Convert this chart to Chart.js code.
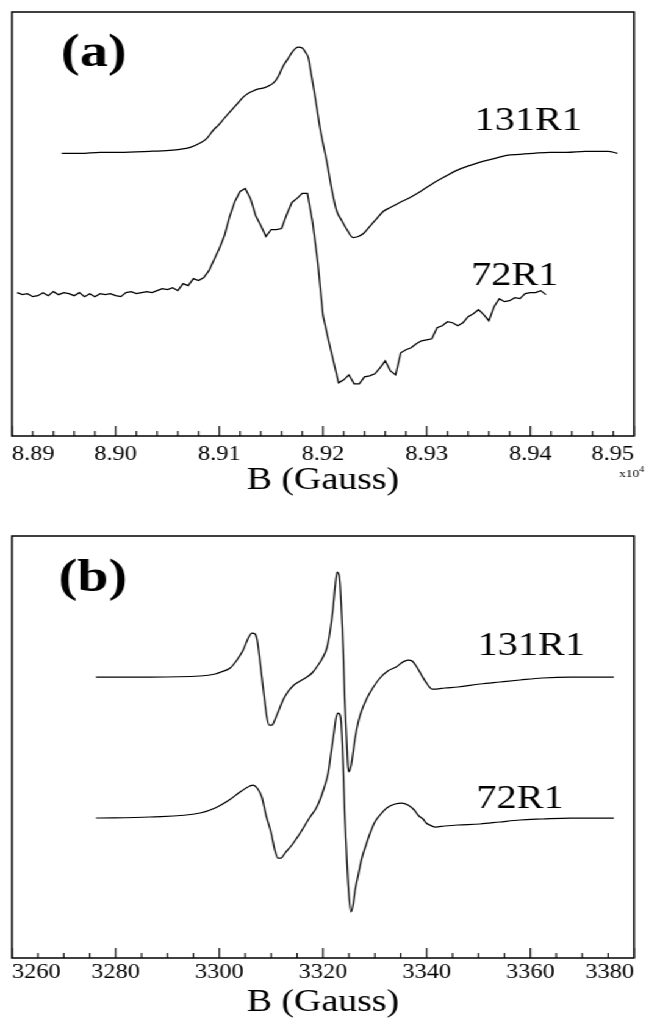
<!DOCTYPE html>
<html>
<head>
<meta charset="utf-8">
<script src="https://cdn.jsdelivr.net/npm/chart.js@4.4.1/dist/chart.umd.min.js"></script>
<style>
  html, body { margin: 0; padding: 0; background: #fff; overflow: hidden; }
  /* the original figure is stretched sideways, so the whole page is too */
  #page { position: absolute; left: 0; top: 0; width: 532px; height: 1019px; transform: scaleX(1.22); transform-origin: 0 0; }
  .box { position: absolute; left: 0; width: 532px; }
  #boxA { top: 0; height: 500px; }
  #boxB { top: 505px; height: 514px; }
</style>
</head>
<body>
<div id="page">
  <div class="box" id="boxA"><canvas id="chartA" width="532" height="500"></canvas></div>
  <div class="box" id="boxB"><canvas id="chartB" width="532" height="514"></canvas></div>
</div>
<script>
// ---- panel (a): field in units of 10^4 G, signal in arbitrary units ----
const fieldA131 = [8.8948, 8.8966, 8.8985, 8.9004, 8.9033, 8.9052, 8.9062, 8.9072, 8.9081, 8.9088,
  8.9094, 8.9099, 8.9104, 8.9110, 8.9117, 8.9123, 8.9128, 8.9132, 8.9137, 8.9142,
  8.9147, 8.9152, 8.9157, 8.9161, 8.9166, 8.9171, 8.9176, 8.9180, 8.9183, 8.9186,
  8.9188, 8.9191, 8.9194, 8.9197, 8.9201, 8.9204, 8.9207, 8.9210, 8.9213, 8.9218,
  8.9223, 8.9229, 8.9234, 8.9239, 8.9245, 8.9252, 8.9258, 8.9265, 8.9274, 8.9284,
  8.9294, 8.9306, 8.9318, 8.9329, 8.9342, 8.9354, 8.9366, 8.9377, 8.9390, 8.9403,
  8.9419, 8.9435, 8.9453, 8.9467, 8.9475, 8.9484];
const signalA131 = [282, 282, 283, 283, 284, 285, 286, 288, 292, 297,
  305, 310, 316, 323, 331, 338, 342, 344, 346, 347,
  349, 352, 359, 368, 376, 384, 388, 387, 383, 377,
  365, 347, 328, 308, 287, 272, 254, 238, 225, 215,
  206, 198, 199, 202, 209, 217, 224, 228, 233, 238,
  244, 252, 259, 265, 270, 274, 277, 280, 281, 282,
  283, 283, 284, 284, 284, 282];

const fieldA72 = [8.8905, 8.8910, 8.8915, 8.8920, 8.8925, 8.8930, 8.8935, 8.8940, 8.8945, 8.8950,
  8.8955, 8.8960, 8.8965, 8.8970, 8.8975, 8.8980, 8.8985, 8.8990, 8.8995, 8.9000,
  8.9005, 8.9010, 8.9015, 8.9020, 8.9025, 8.9030, 8.9035, 8.9040, 8.9045, 8.9050,
  8.9055, 8.9060, 8.9065, 8.9070, 8.9075, 8.9080, 8.9085, 8.9090, 8.9095, 8.9100,
  8.9105, 8.9110, 8.9115, 8.9120, 8.9125, 8.9130, 8.9135, 8.9140, 8.9145, 8.9150,
  8.9155, 8.9160, 8.9165, 8.9170, 8.9175, 8.9180, 8.9185, 8.9190, 8.9195, 8.9200,
  8.9205, 8.9210, 8.9215, 8.9220, 8.9225, 8.9230, 8.9235, 8.9240, 8.9245, 8.9250,
  8.9255, 8.9260, 8.9265, 8.9270, 8.9275, 8.9280, 8.9285, 8.9290, 8.9295, 8.9300,
  8.9305, 8.9310, 8.9315, 8.9320, 8.9325, 8.9330, 8.9335, 8.9340, 8.9345, 8.9350,
  8.9355, 8.9360, 8.9365, 8.9370, 8.9375, 8.9380, 8.9385, 8.9390, 8.9395, 8.9400,
  8.9405, 8.9410, 8.9415];
const signalA72 = [143, 141, 142, 139, 140, 143, 140, 144, 141, 143,
  142, 140, 143, 139, 142, 139, 142, 141, 142, 140,
  139, 143, 144, 142, 143, 144, 143, 145, 147, 146,
  148, 145, 152, 150, 157, 155, 158, 165, 176, 187,
  200, 219, 234, 244, 247, 237, 220, 210, 199, 206,
  206, 207, 221, 233, 237, 242, 242, 213, 173, 120,
  97, 75, 53, 56, 61, 52, 52, 59, 60, 62,
  68, 75, 65, 61, 83, 86, 88, 92, 95, 96,
  97, 108, 110, 114, 113, 110, 113, 119, 122, 126,
  121, 115, 129, 137, 134, 135, 138, 137, 142, 143,
  143, 145, 141];

const tickFieldA = [8.89, 8.90, 8.91, 8.92, 8.93, 8.94, 8.95];
const labelTextA = ['(a)', '131R1', '72R1'];
const labelFieldA = [8.8979, 8.9398, 8.9385];
const labelSignalA = [369, 305, 151];

// ---- panel (b): field in G ----
const fieldB131 = [3276.2, 3286.6, 3296.3, 3299.2, 3300.3, 3302.1, 3303.4, 3304.6, 3305.5, 3306.3,
  3306.9, 3307.3, 3307.7, 3308.2, 3308.8, 3309.2, 3309.6, 3310.2, 3310.7, 3311.5,
  3312.3, 3313.2, 3314.2, 3315.6, 3316.9, 3317.9, 3318.8, 3319.8, 3320.8, 3321.4,
  3321.9, 3322.3, 3322.7, 3323.1, 3323.3, 3323.7, 3323.9, 3324.2, 3324.6, 3324.8,
  3325.0, 3325.4, 3325.6, 3326.2, 3326.8, 3327.5, 3328.5, 3329.6, 3331.0, 3332.5,
  3334.1, 3335.4, 3336.4, 3337.2, 3338.1, 3339.1, 3340.1, 3341.0, 3341.8, 3343.5,
  3346.0, 3350.3, 3354.1, 3358.0, 3362.3, 3367.7, 3372.5, 3376.1];
const signalB131 = [281, 281, 282, 284, 286, 290, 298, 308, 319, 325,
  324, 318, 303, 281, 255, 240, 233, 233, 238, 248,
  258, 266, 272, 277, 281, 285, 291, 299, 311, 328,
  348, 370, 386, 383, 373, 333, 308, 258, 213, 193,
  186, 192, 198, 220, 236, 248, 260, 270, 280, 287,
  291, 296, 298, 297, 291, 282, 274, 269, 269, 270,
  271, 274, 276, 278, 280, 281, 281, 281];

const fieldB72 = [3276.2, 3286.6, 3296.3, 3299.2, 3301.9, 3304.0, 3305.9, 3306.5, 3307.3, 3308.2,
  3309.0, 3310.0, 3310.7, 3311.3, 3311.9, 3312.7, 3314.0, 3315.6, 3317.5, 3318.7,
  3319.4, 3320.2, 3321.0, 3321.5, 3322.1, 3322.5, 3322.9, 3323.3, 3323.5, 3323.9,
  3324.2, 3324.6, 3325.0, 3325.4, 3325.8, 3326.2, 3326.8, 3327.5, 3328.3, 3329.1,
  3330.0, 3331.0, 3332.3, 3333.9, 3335.2, 3336.4, 3337.6, 3338.5, 3339.3, 3339.9,
  3340.6, 3341.6, 3343.5, 3346.0, 3350.3, 3354.1, 3358.0, 3362.3, 3367.7, 3372.5, 3376.1];
const signalB72 = [140, 141, 145, 150, 158, 166, 172, 173, 170, 161,
  143, 125, 108, 100, 100, 105, 113, 125, 141, 150,
  158, 170, 185, 203, 225, 240, 245, 243, 236, 191,
  143, 98, 63, 46, 53, 68, 83, 100, 113, 125,
  136, 143, 150, 154, 155, 153, 148, 142, 139, 135,
  133, 131, 132, 133, 134, 136, 138, 139, 140, 140, 140];

const tickFieldB = [3260, 3280, 3300, 3320, 3340, 3360, 3380];
const labelTextB = ['(b)', '131R1', '72R1'];
const labelFieldB = [3275.6, 3360.2, 3358.0];
const labelSignalB = [367, 303, 150];

Chart.defaults.font.family = "'Liberation Serif', 'Times New Roman', serif";
Chart.defaults.color = '#000';

function points(xs, ys) {
    return xs.map((x, i) => ({ x: x, y: ys[i] }));
}

// box frame, inward ticks, curve labels and the x10^4 note
const spectrumDecor = {
    id: 'spectrumDecor',
    afterDraw(chart, args, o) {
        const { ctx, chartArea: a } = chart;
        const xs = chart.scales.x, ys = chart.scales.y;
        ctx.save();
        ctx.strokeStyle = '#000';
        ctx.lineWidth = 1.5;
        ctx.strokeRect(a.left, a.top, a.right - a.left, a.bottom - a.top);

        ctx.lineWidth = 1.1;
        ctx.beginPath();
        const n = Math.round((xs.max - xs.min) / o.minorStep);
        for (let k = 0; k <= n; k++) {
            const px = xs.getPixelForValue(xs.min + k * o.minorStep);
            const len = k % o.minorPerMajor === 0 ? 10 : 5;
            ctx.moveTo(px, a.bottom);
            ctx.lineTo(px, a.bottom - len);
        }
        ctx.stroke();

        ctx.fillStyle = '#000';
        ctx.textAlign = 'center';
        ctx.textBaseline = 'alphabetic';
        o.texts.forEach((t, i) => {
            ctx.font = i === 0 ? "bold 46px 'Liberation Serif'" : "33px 'Liberation Serif'";
            ctx.fillText(t, xs.getPixelForValue(o.fields[i]), ys.getPixelForValue(o.signals[i]));
        });

        if (o.exponent) {
            ctx.textAlign = 'right';
            ctx.font = "8px 'Liberation Serif'";
            const right = chart.width - 4;
            ctx.fillText('4', right, a.bottom + 36);
            const w = ctx.measureText('4').width;
            ctx.font = "11px 'Liberation Serif'";
            ctx.fillText('x10', right - w, a.bottom + 41);
        }
        ctx.restore();
    }
};

function makeChart(id, cfg) {
    return new Chart(document.getElementById(id), {
        type: 'line',
        data: {
            datasets: cfg.series.map(s => ({
                data: s.data,
                borderColor: '#000',
                borderWidth: 1.25,
                pointRadius: 0,
                fill: false,
                tension: s.noisy ? 0 : 0.4,
                cubicInterpolationMode: s.noisy ? 'default' : 'monotone'
            }))
        },
        options: {
            responsive: false,
            animation: false,
            layout: { padding: cfg.padding },
            plugins: {
                legend: { display: false },
                tooltip: { enabled: false },
                spectrumDecor: cfg.decor
            },
            scales: {
                x: {
                    type: 'linear',
                    min: cfg.xMin,
                    max: cfg.xMax,
                    afterBuildTicks: s => { s.ticks = cfg.ticks.map(v => ({ value: v })); },
                    afterFit: s => { s.height = 60; },
                    grid: { display: false, drawTicks: false },
                    border: { display: false },
                    ticks: {
                        align: 'inner',
                        padding: cfg.tickPad,
                        autoSkip: false,
                        maxRotation: 0,
                        font: { size: 20 },
                        callback: cfg.format
                    },
                    title: {
                        display: true,
                        text: 'B (Gauss)',
                        padding: 0,
                        font: { size: 31, lineHeight: 1 }
                    }
                },
                y: { display: false, min: cfg.yMin, max: cfg.yMax }
            }
        },
        plugins: [spectrumDecor]
    });
}

makeChart('chartA', {
    series: [
        { data: points(fieldA131, signalA131) },
        { data: points(fieldA72, signalA72), noisy: true }
    ],
    padding: { top: 12, left: 9.8, right: 12.3, bottom: 4 },
    xMin: 8.89, xMax: 8.95, yMin: 0, yMax: 423,
    ticks: tickFieldA,
    tickPad: 7,
    format: v => Number(v).toFixed(2),
    decor: { minorStep: 0.002, minorPerMajor: 5, texts: labelTextA, fields: labelFieldA, signals: labelSignalA, exponent: true }
});

makeChart('chartB', {
    series: [
        { data: points(fieldB131, signalB131) },
        { data: points(fieldB72, signalB72) }
    ],
    padding: { top: 31, left: 9.8, right: 12.3, bottom: 1 },
    xMin: 3260, xMax: 3380, yMin: 0, yMax: 422,
    ticks: tickFieldB,
    tickPad: 3,
    format: v => String(v),
    decor: { minorStep: 5, minorPerMajor: 4, texts: labelTextB, fields: labelFieldB, signals: labelSignalB, exponent: false }
});
</script>
</body>
</html>
